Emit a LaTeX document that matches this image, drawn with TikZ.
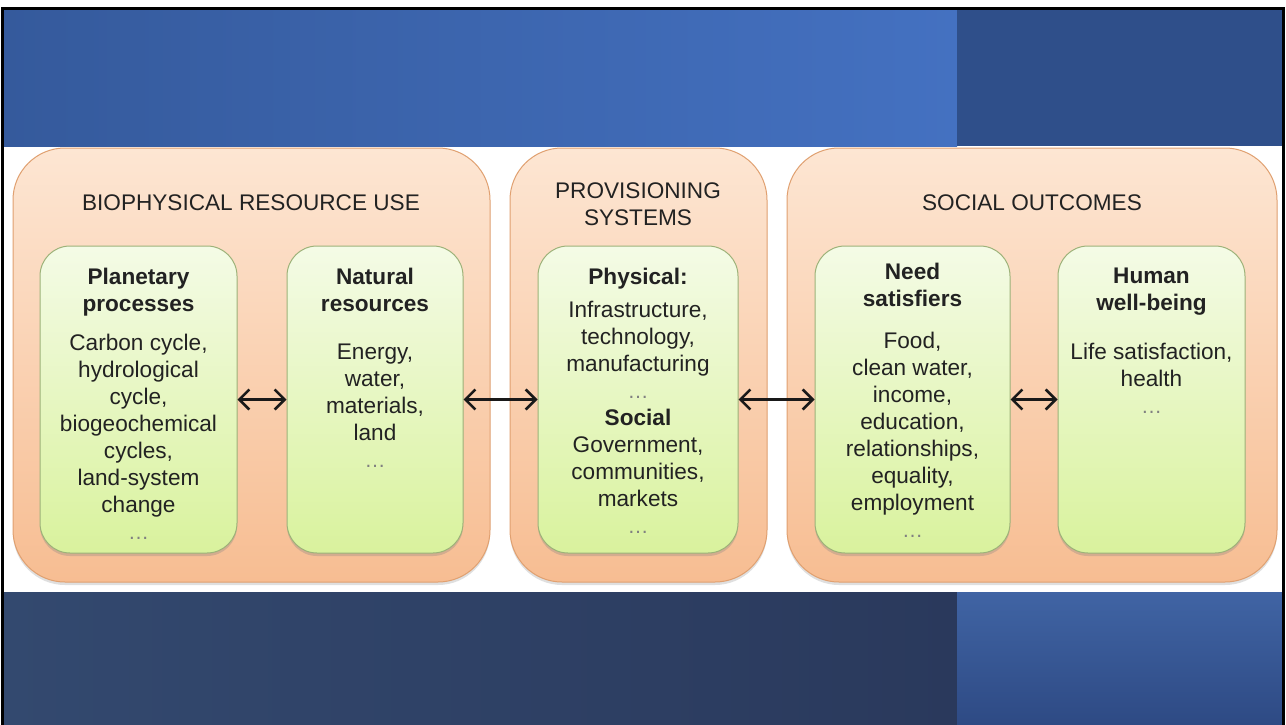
\documentclass[tikz,border=0pt]{standalone}
\usepackage{fontspec}
\setmainfont{Liberation Sans}
\usetikzlibrary{arrows.meta,shadows}

\definecolor{bandtop}{HTML}{4471C1}
\definecolor{bandlow}{HTML}{355A9C}
\definecolor{paneltop}{HTML}{2F4F8A}
\definecolor{bandbot}{HTML}{33496F}
\definecolor{bandbotdark}{HTML}{2A395C}
\definecolor{panelbot}{HTML}{4064A4}
\definecolor{panelbotdark}{HTML}{2E4A84}
\definecolor{orangetop}{HTML}{FDE6D3}
\definecolor{orangebot}{HTML}{F7BD92}
\definecolor{orangeedge}{HTML}{E0A070}
\definecolor{greentop}{HTML}{F4FBE6}
\definecolor{greenbot}{HTML}{D9F29D}
\definecolor{greenedge}{HTML}{9DB279}
\definecolor{textgray}{HTML}{222222}

\tikzset{
  outerbox/.style={draw=orangeedge, line width=1pt, rounded corners=52pt,
    top color=orangetop, bottom color=orangebot,
    drop shadow={shadow xshift=0pt, shadow yshift=-3pt, opacity=0.25}},
  innerbox/.style={draw=greenedge, line width=1pt, rounded corners=30pt,
    top color=greentop, bottom color=greenbot, minimum height=307,
    drop shadow={shadow xshift=0pt, shadow yshift=-3pt, opacity=0.3}},
  boxtitle/.style={font=\fontsize{22.6}{27}\selectfont, align=center, text=textgray},
  boxtext/.style={font=\fontsize{22.6}{27}\selectfont, align=center, anchor=north,
    inner sep=0pt, text=textgray},
  link/.style={{Straight Barb[length=10pt,width=20pt]}-{Straight Barb[length=10pt,width=20pt]},
    line width=2.6pt, draw=black!90}
}
\newcommand{\moredots}{{\color{black!50}\fontsize{21}{21}\selectfont\dots}}

\begin{document}
\begin{tikzpicture}[x=1pt,y=-1pt]
\useasboundingbox (0,0) rectangle (1286,725);
\fill[white] (0,0) rectangle (1286,725);

% Background bands
\shade[left color=bandlow, right color=bandtop] (3,9) rectangle (957,146);
\fill[paneltop] (957,9) rectangle (1283,146);
\shade[left color=bandbot, right color=bandbotdark] (3,592) rectangle (957,725);
\shade[top color=panelbot, bottom color=panelbotdark] (957,592) rectangle (1283,725);
\draw[line width=3pt] (2,725) -- (2,9) -- (1283.5,9) -- (1283.5,725);

% Outer boxes
\node[outerbox, minimum width=477, minimum height=434] (biophys) at (251.5,365) {};
\node[outerbox, minimum width=257, minimum height=434] (provis) at (638.5,365) {};
\node[outerbox, minimum width=490, minimum height=434] (social) at (1032,365) {};

\node[boxtitle] (biophystitle) at (251,203) {BIOPHYSICAL RESOURCE USE};
\node[boxtitle] (provistitle) at (638,204) {PROVISIONING\\SYSTEMS};
\node[boxtitle] (socialtitle) at (1032,203) {SOCIAL OUTCOMES};

% Inner boxes
\node[innerbox, minimum width=197] (planet) at (138.5,399.5) {};
\node[innerbox, minimum width=176] (natres) at (375,399.5) {};
\node[innerbox, minimum width=200] (physsoc) at (638,399.5) {};
\node[innerbox, minimum width=195] (needs) at (912.5,399.5) {};
\node[innerbox, minimum width=187] (wellbeing) at (1151.5,399.5) {};

% Texts
\node[boxtext] (planettxt) at ([yshift=-22pt]planet.north)
  {\textbf{Planetary}\\\textbf{processes}\\[12pt]Carbon cycle,\\hydrological\\cycle,\\biogeochemical\\cycles,\\land-system\\change\\\moredots};
\node[boxtext] (natrestxt) at ([yshift=-22pt]natres.north)
  {\textbf{Natural}\\\textbf{resources}\\[21pt]Energy,\\water,\\materials,\\land\\\moredots};
\node[boxtext] (physsoctxt) at ([yshift=-22pt]physsoc.north)
  {\textbf{Physical:}\\[6pt]Infrastructure,\\technology,\\manufacturing\\\moredots\\\textbf{Social}\\Government,\\communities,\\markets\\\moredots};
\node[boxtext] (needstxt) at ([yshift=-17pt]needs.north)
  {\textbf{Need}\\\textbf{satisfiers}\\[15pt]Food,\\clean water,\\income,\\education,\\relationships,\\equality,\\employment\\\moredots};
\node[boxtext] (wellbeingtxt) at ([yshift=-22pt]wellbeing.north)
  {\textbf{Human}\\\textbf{well-being}\\[22pt]Life satisfaction,\\health\\\moredots};

% Arrows
\draw[link] (planet.east) -- (natres.west);
\draw[link] (natres.east) -- (physsoc.west);
\draw[link] (physsoc.east) -- (needs.west);
\draw[link] (needs.east) -- (wellbeing.west);
\end{tikzpicture}
\end{document}
